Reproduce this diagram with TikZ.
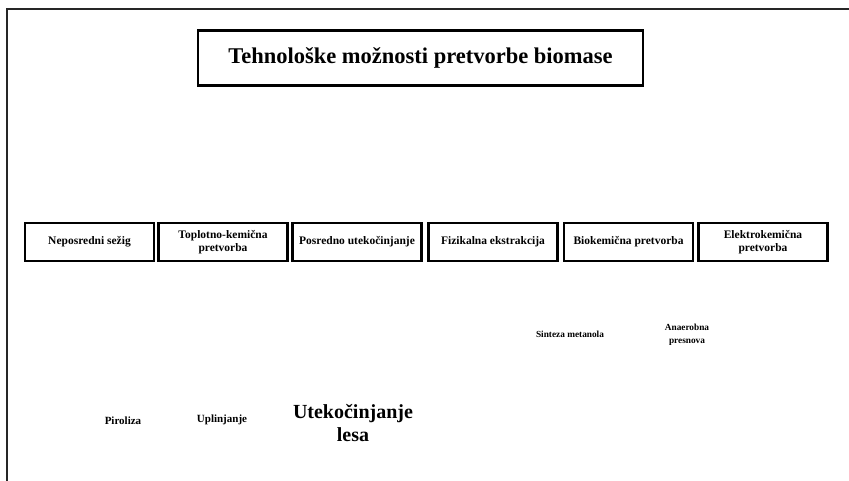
\documentclass[tikz,border=0pt]{standalone}
\usepackage{fontspec}
\setmainfont{Liberation Serif}
\begin{document}
\begin{tikzpicture}[x=1pt,y=-1pt,
  frame/.style={line width=1.6pt,draw=black!85},
  titlebox/.style={draw,line width=2.6pt,minimum width=445pt,minimum height=55pt,inner sep=0pt,font=\fontsize{22.5}{26}\selectfont\bfseries},
  catbox/.style={draw,line width=2.6pt,minimum width=129pt,minimum height=38pt,inner sep=1pt,align=center,font=\fontsize{11.5}{13}\selectfont\bfseries},
  small/.style={align=center,font=\fontsize{9.3}{12.5}\selectfont\bfseries,inner sep=0pt},
  mid/.style={align=center,font=\fontsize{11}{13}\selectfont\bfseries,inner sep=0pt},
  big/.style={align=center,font=\fontsize{20}{23}\selectfont\bfseries,inner sep=0pt}]
\useasboundingbox (0,0) rectangle (849,481);
\coordinate (fa) at (7,481);
\coordinate (fb) at (7,9);
\coordinate (fc) at (849,9);
\draw[frame] (fa) -- (fb) -- (fc);
\node[titlebox] (title) at (420.5,58) {Tehnološke možnosti pretvorbe biomase};
\node[catbox] (c1) at (89.5,242) {Neposredni sežig};
\node[catbox] (c2) at (223,242) {Toplotno-kemična\\pretvorba};
\node[catbox] (c3) at (357,242) {Posredno utekočinjanje};
\node[catbox] (c4) at (493,242) {Fizikalna ekstrakcija};
\node[catbox] (c5) at (628.5,242) {Biokemična pretvorba};
\node[catbox] (c6) at (763,242) {Elektrokemična\\pretvorba};
\node[small] (s1) at (570,334) {Sinteza metanola};
\node[small] (s2) at (687,335) {Anaerobna\\presnova};
\node[mid] (p1) at (123,421) {Piroliza};
\node[mid] (p2) at (222,420) {Uplinjanje};
\node[big] (p3) at (353,423) {Utekočinjanje\\lesa};
\end{tikzpicture}
\end{document}
